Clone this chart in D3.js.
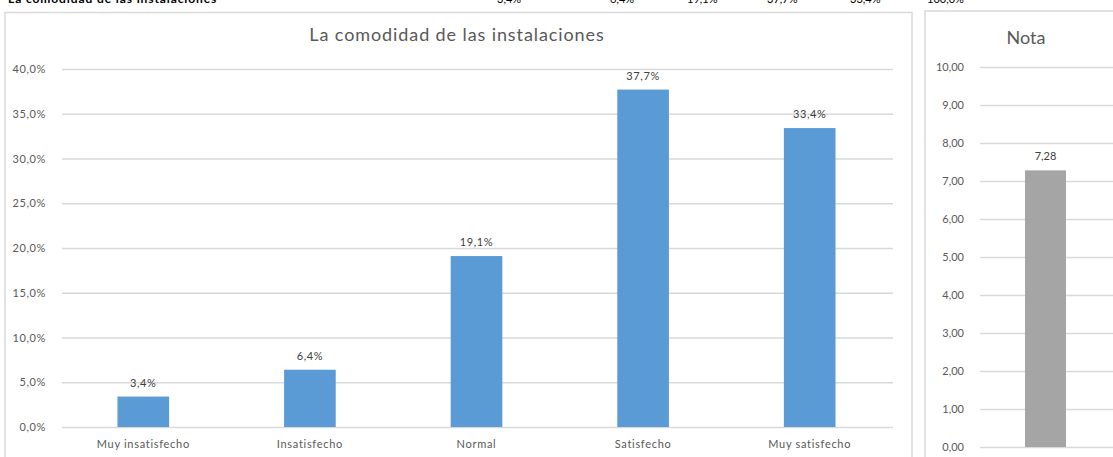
<!DOCTYPE html>
<html><head><meta charset="utf-8">
<script src="https://cdn.jsdelivr.net/npm/d3@7"></script>
<style>body{margin:0;background:#fff;overflow:hidden}svg{display:block}</style>
</head><body>
<svg id="c" width="1113" height="457"></svg>
<script>
const categories = ["Muy insatisfecho", "Insatisfecho", "Normal", "Satisfecho", "Muy satisfecho"];
const values = [3.4, 6.4, 19.1, 37.7, 33.4];
const pctTicks = [0, 5, 10, 15, 20, 25, 30, 35, 40];
const notaCategory = ["Nota"];
const notaValues = [7.28];
const notaTicks = [0, 1, 2, 3, 4, 5, 6, 7, 8, 9, 10];
const topRowLabel = "La comodidad de las instalaciones";
const topRowValues = ["3,4%", "6,4%", "19,1%", "37,7%", "33,4%", "100,0%"];

const loc = d3.formatLocale({decimal: ",", thousands: ".", grouping: [3], currency: ["", "€"]});
const f1 = loc.format(".1f"), f2 = loc.format(".2f");
const svg = d3.select("#c");
const font = "Lato, 'Liberation Sans', sans-serif";
const grid = "#d9d9d9", txt = "#595959";

// cut-off top row
const topX = [497, 610, 687, 767, 850, 927];
svg.append("text").attr("x", 8).attr("y", 2.5).attr("font-family", font).attr("font-size", 12)
  .attr("font-weight", "bold").attr("letter-spacing", 0.9).attr("fill", "#000").text(topRowLabel);
svg.selectAll(".tv").data(topRowValues).join("text").attr("x", (d, i) => topX[i]).attr("y", 2.5)
  .attr("font-family", font).attr("font-size", 11).attr("fill", "#000").text(d => d);

// frames
svg.append("rect").attr("x", 5).attr("y", 12.5).attr("width", 907).attr("height", 460)
  .attr("fill", "#fff").attr("stroke", grid).attr("stroke-width", 1.5);
svg.append("rect").attr("x", 925).attr("y", 11).attr("width", 220).attr("height", 460)
  .attr("fill", "#fff").attr("stroke", grid).attr("stroke-width", 1.5);

// ---- left chart
const x = d3.scaleBand().domain(categories).range([60, 893]).paddingInner(0.69).paddingOuter(0.345);
const y = d3.scaleLinear().domain([0, 40]).range([427, 69]);

svg.append("text").attr("x", 457).attr("y", 41).attr("text-anchor", "middle")
  .attr("font-family", font).attr("font-size", 18).attr("letter-spacing", 0.9).attr("fill", txt)
  .text("La comodidad de las instalaciones");

const yAxis = svg.append("g").attr("transform", "translate(60,0)")
  .call(d3.axisLeft(y).tickValues(pctTicks).tickSize(-833).tickPadding(14).tickFormat(d => f1(d) + "%"));
yAxis.select(".domain").remove();
yAxis.selectAll(".tick line").attr("stroke", grid).attr("stroke-width", 1.5).attr("x1", 2);
yAxis.selectAll(".tick text").attr("font-family", font).attr("font-size", 11).attr("letter-spacing", 0.6).attr("fill", txt);

svg.selectAll(".bar").data(values).join("rect")
  .attr("x", (d, i) => x(categories[i])).attr("width", x.bandwidth())
  .attr("y", d => y(d)).attr("height", d => y(0) - y(d)).attr("fill", "#5b9bd5");

svg.selectAll(".lbl").data(values).join("text")
  .attr("x", (d, i) => x(categories[i]) + x.bandwidth() / 2).attr("y", d => y(d) - 10)
  .attr("text-anchor", "middle").attr("font-family", font).attr("font-size", 11).attr("letter-spacing", 0.6)
  .attr("fill", "#404040").text(d => f1(d) + "%");

const xAxis = svg.append("g").attr("transform", "translate(0,427)").call(d3.axisBottom(x).tickSize(0).tickPadding(13));
xAxis.select(".domain").remove();
xAxis.selectAll("text").attr("font-family", font).attr("font-size", 11).attr("letter-spacing", 0.7).attr("fill", txt);

// ---- right chart
const x2 = d3.scaleBand().domain(notaCategory).range([980, 1111]).paddingInner(0.687).paddingOuter(0.344);
const y2 = d3.scaleLinear().domain([0, 10]).range([447, 67]);

svg.append("text").attr("x", 1026).attr("y", 44).attr("text-anchor", "middle")
  .attr("font-family", font).attr("font-size", 18).attr("fill", txt).text("Nota");

const y2Axis = svg.append("g").attr("transform", "translate(980,0)")
  .call(d3.axisLeft(y2).tickValues(notaTicks).tickSize(-140).tickPadding(16).tickFormat(d => f2(d)));
y2Axis.select(".domain").remove();
y2Axis.selectAll(".tick line").attr("stroke", grid).attr("stroke-width", 1.5);
y2Axis.selectAll(".tick text").attr("font-family", font).attr("font-size", 11).attr("fill", txt);

svg.selectAll(".bar2").data(notaValues).join("rect")
  .attr("x", (d, i) => x2(notaCategory[i])).attr("width", x2.bandwidth())
  .attr("y", d => y2(d)).attr("height", d => y2(0) - y2(d)).attr("fill", "#a5a5a5");
svg.selectAll(".lbl2").data(notaValues).join("text")
  .attr("x", (d, i) => x2(notaCategory[i]) + x2.bandwidth() / 2).attr("y", d => y2(d) - 10)
  .attr("text-anchor", "middle").attr("font-family", font).attr("font-size", 11).attr("fill", "#404040")
  .text(d => f2(d));
</script>
</body></html>
